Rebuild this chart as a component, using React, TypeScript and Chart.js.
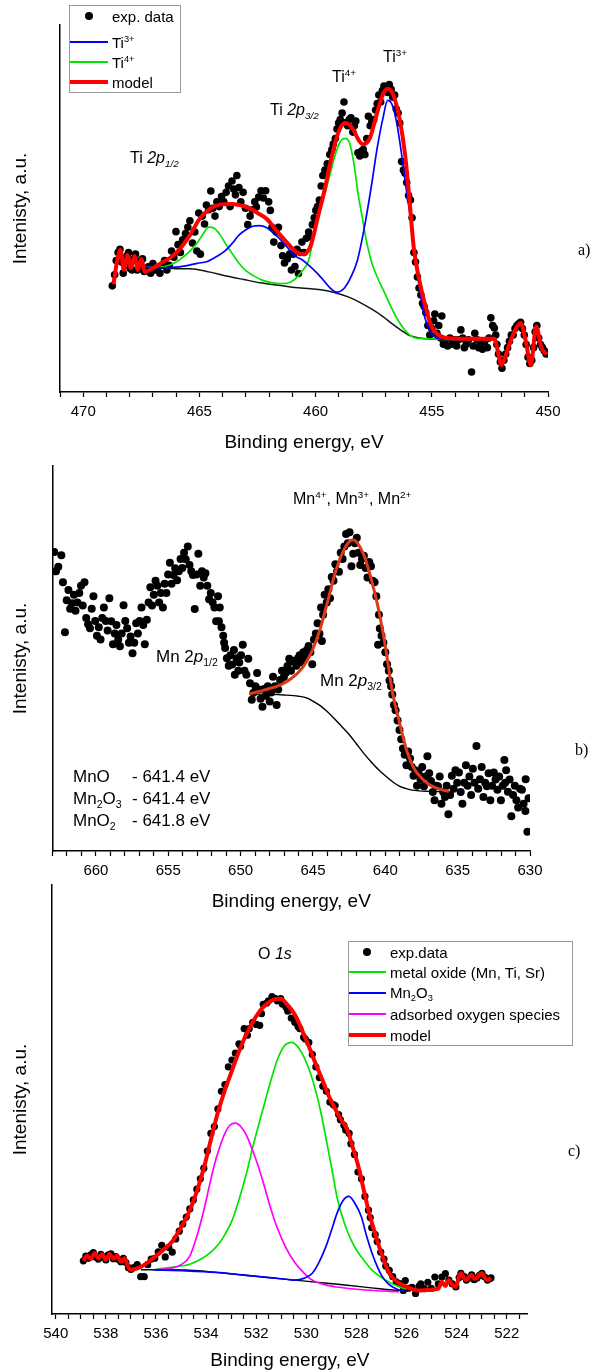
import React, { useEffect, useRef } from 'react';
import { Chart, registerables } from 'chart.js';
Chart.register(...registerables);

const FONT = '"Liberation Sans", Arial, Helvetica, sans-serif';
const SERIF = '"Liberation Serif", "Times New Roman", serif';
type P = [number, number];

// ---------- Panel a: Ti 2p ----------
const aExp: P[] = [
  [468.75,33.5],[468.65,37],[468.58,41.5],[468.5,44],[468.42,45],[468.35,41],[468.28,37.5],[468.2,40],[468.12,43],[468.05,44],
  [467.98,39],[467.9,38.5],[467.82,42],[467.75,43.5],[467.68,38.5],[467.6,39.5],[467.52,41.5],[467.45,42],[467.38,38],[467.3,38.5],
  [467.2,39.5],[467.1,37.5],[467.0,40.5],[466.9,38.5],[466.8,39],[466.7,37.5],[466.6,40],[466.5,41.5],[466.4,38.5],[466.3,40],
  [466.2,44.5],[466.1,42.5],[466.01,50.6],[465.92,46.5],[465.82,44],[465.72,48],[465.6,50],[465.5,52],[465.41,54],[465.3,47],
  [465.2,50.5],[465.11,44.5],[465.03,56.5],[464.96,43.5],[464.88,55.5],[464.78,53],[464.7,59],[464.6,57.5],[464.51,63.4],[464.42,58],
  [464.33,55.5],[464.25,60],[464.15,58.5],[464.05,61.7],[463.95,60],[463.85,63],[463.75,65],[463.68,58.5],[463.6,66.6],[463.52,64],
  [463.45,62.2],[463.39,68.3],[463.3,64.5],[463.22,60],[463.12,63],[463.02,58],[462.92,52.8],[462.82,55.5],[462.72,57.5],[462.62,60],
  [462.55,58.4],[462.45,61.5],[462.35,63.5],[462.25,61.2],[462.15,63.5],[462.02,60],[461.95,57.3],[461.88,52],[461.8,47.3],[461.7,50.5],
  [461.6,52],[461.49,46.2],[461.42,43],[461.34,40.7],[461.22,42],[461.12,43.5],[461.04,38.5],[460.96,43.5],[460.89,39.6],[460.8,45],
  [460.74,37.4],[460.66,44],[460.59,47.3],[460.5,44],[460.4,48.5],[460.3,50.5],[460.22,49],[460.14,52.8],[460.06,55],[459.99,57.3],
  [459.92,58.5],[459.84,60.6],[459.76,65],[459.69,68.3],[459.6,70],[459.5,72],[459.39,74.9],[459.3,76.5],[459.24,78.2],[459.15,80],
  [459.08,83],[459.01,84.9],[458.94,86],[458.86,88],[458.78,91.5],[458.7,85],[458.62,84],[458.55,86],[458.48,86.5],[458.4,82],
  [458.33,84],[458.27,85.5],[458.18,75.5],[458.1,74.5],[458.02,76],[457.95,76.5],[457.88,74.9],[457.8,80],[457.73,87],[457.65,84],
  [457.58,85.5],[457.5,86],[457.42,89],[457.35,91],[457.28,93.7],[457.2,91.5],[457.13,95],[457.06,96.5],[456.98,95.5],[456.9,94.5],
  [456.83,97],[456.75,95.5],[456.68,93],[456.6,93.7],[456.53,89.3],[456.45,88],[456.38,84.9],[456.3,72.7],[456.22,70],[456.15,69],
  [456.08,66.1],[456.0,62],[455.92,60.6],[455.85,55],[455.77,44],[455.7,41],[455.62,36.3],[455.55,32.8],[455.47,30.6],[455.4,28],
  [455.33,27],[455.26,25.1],[455.17,21],[455.09,18],[455.0,20],[454.92,22.5],[454.87,24.6],[454.78,18.5],[454.7,21],[454.62,17],
  [454.57,24],[454.5,15.1],[454.42,16.5],[454.32,14.5],[454.22,17],[454.12,15.1],[454.02,16.5],[453.93,14.5],[453.85,16.5],[453.75,19.6],
  [453.67,17],[453.6,14],[453.52,15.1],[453.42,16.5],[453.29,6.3],[453.22,14.5],[453.15,18.5],[453.05,16.5],[452.98,14],[452.91,15.1],
  [452.82,13.5],[452.72,16],[452.61,14],[452.54,17],[452.46,23.4],[452.38,21],[452.31,20.2],[452.25,18],[452.2,15],[452.13,12],
  [452.05,9.5],[451.98,7.5],[451.9,10],[451.82,12],[451.74,14],[451.66,16],[451.58,18],[451.5,18],[451.42,20],[451.34,21],
  [451.26,21.5],[451.18,22],[451.1,20],[451.02,18],[450.94,15],[450.86,11],[450.78,9],[450.7,10],[450.62,14],[450.55,19],
  [450.48,21],[450.4,17],[450.32,15],[450.24,14],[450.16,13],[450.08,12],
];
const aModel: P[] = [
  [468.7,34],[468.55,41],[468.4,44.8],[468.25,38.5],[468.1,43.2],[467.95,39.1],[467.8,42.9],[467.65,38.5],[467.5,42],[467.35,37.9],
  [467.0,39.1],[466.57,41.0],[466.16,42.9],[465.8,45.5],[465.41,49.5],[464.96,55.0],[464.5,58.0],[464.05,59.2],[463.6,59.3],[463.3,59.0],
  [462.9,58.2],[462.5,56.5],[462.1,54.6],[461.65,50.6],[461.19,46.8],[460.81,44.0],[460.51,43.5],[460.21,46.2],[459.91,55.0],[459.61,63.9],
  [459.39,71.6],[459.09,80.4],[458.9,83.8],[458.71,84.9],[458.5,84.0],[458.33,82.1],[458.15,79.5],[457.96,78.2],[457.8,78.6],[457.65,80.4],
  [457.35,88.2],[457.1,94.0],[456.9,95.7],[456.75,95.0],[456.6,92.6],[456.38,86.0],[456.15,74.9],[456.0,63.9],[455.77,45.1],[455.55,35.7],
  [455.32,28.4],[455.02,20.7],[454.72,18.0],[454.42,17.1],[453.5,16.8],[452.31,16.8],[452.16,12.9],[452.01,8.5],[451.86,10.7],[451.71,14.0],
  [451.41,19.6],[451.18,21.8],[450.96,16.2],[450.74,8.5],[450.51,20.7],[450.28,14.0],[450.05,11.8],
];
const aTi3: P[] = [
  [467.4,39.5],[466.6,39.2],[466.2,39.3],[465.6,39.8],[465.1,40.6],[464.66,41.2],[464.2,43.0],[463.9,44.5],[463.6,46.8],[463.3,49.5],
  [463.0,51.2],[462.7,52.3],[462.4,52.5],[462.1,51.8],[461.8,50.0],[461.5,48.0],[461.2,45.5],[460.9,43.0],[460.6,41.8],[460.3,40.0],
  [460.0,38.0],[459.69,35.5],[459.4,33.0],[459.1,31.5],[458.8,32.5],[458.5,36.0],[458.2,41.6],[457.9,52.0],[457.6,65.0],[457.35,77.0],
  [457.1,86.5],[456.9,92.0],[456.7,90.5],[456.5,84.5],[456.3,75.0],[456.1,64.0],[455.92,55.0],[455.75,44.5],[455.6,36.5],[455.45,29.0],
  [455.3,23.5],[455.1,19.5],[454.9,17.5],[454.6,16.7],[453.5,16.6],[452.3,16.6],
];
const aTi4: P[] = [
  [467.4,39.5],[466.8,39.4],[466.3,40.0],[465.9,41.5],[465.5,43.8],[465.1,47.0],[464.85,49.8],[464.6,52.0],[464.35,51.6],[464.1,49.5],
  [463.85,46.5],[463.6,43.8],[463.3,40.6],[463.0,38.3],[462.7,36.8],[462.3,35.3],[461.9,34.5],[461.5,34.2],[461.2,34.4],[460.9,35.5],
  [460.6,38.0],[460.3,41.6],[460.0,52.0],[459.7,60.0],[459.4,68.0],[459.15,75.0],[458.95,78.8],[458.75,80.0],[458.55,78.8],[458.35,72.0],
  [458.15,61.5],[458.0,55.5],[457.85,49.0],[457.7,44.0],[457.55,40.0],[457.3,35.5],[457.0,30.8],[456.7,26.0],[456.4,22.0],[456.1,19.0],
  [455.8,17.3],[455.5,16.9],[455.2,16.8],[454.6,16.6],[452.3,16.6],
];
const aBg: P[] = [
  [467.4,39.5],[467.0,39.3],[466.5,39.1],[466.0,38.9],[465.4,38.9],[464.6,37.9],[463.9,36.7],[463.1,35.5],[462.4,34.5],[461.6,33.7],
  [460.9,33.0],[460.2,32.6],[459.7,32.2],[459.2,31.4],[458.6,30.0],[458.1,28.3],[457.6,26.2],[457.1,23.8],[456.7,21.5],[456.3,19.4],
  [456.0,18.0],[455.6,17.1],[455.2,16.8],[454.6,16.6],[453.5,16.6],[452.3,16.6],
];

// ---------- Panel b: Mn 2p ----------
const bExp: P[] = [
  [662.88,96.2],[662.76,90],[662.6,91.5],[662.39,95.2],[662.28,86.5],[662.14,70.4],[662.02,80.7],[661.9,84],[661.78,78],[661.65,79.7],
  [661.52,82.5],[661.41,77.3],[661.28,80],[661.15,83],[661.03,85.4],[660.91,79],[660.79,86.5],[660.67,75],[660.54,73],[660.41,71.7],
  [660.29,78],[660.17,82],[660.05,74],[659.93,69.3],[659.8,72],[659.68,68.1],[659.56,75],[659.45,78.4],[659.32,74],[659.19,71],
  [659.07,81.3],[658.94,73.9],[658.82,66.5],[658.7,70],[658.58,72.7],[658.46,68],[658.34,65.9],[658.22,70],[658.09,79.1],[657.97,74],
  [657.84,71.7],[657.72,67],[657.6,69],[657.47,63.6],[657.35,67],[657.22,73.3],[657.1,70],[656.98,74],[656.85,78.4],[656.73,72.7],
  [656.62,66.5],[656.48,74.4],[656.36,80],[656.24,84.9],[656.12,79],[656.0,82.5],[655.88,87],[655.75,85.4],[655.63,80],[655.51,83],
  [655.37,78.4],[655.25,86],[655.13,83],[655.01,89],[654.89,92.8],[654.77,86],[654.64,88.8],[654.52,91],[654.39,87.1],[654.27,90],
  [654.15,94],[654.03,91.1],[653.91,96],[653.79,93.9],[653.65,98],[653.53,92],[653.41,90],[653.3,88.8],[653.17,77.9],[653.05,89],
  [652.92,95.7],[652.79,85.4],[652.67,90],[652.55,88],[652.43,89.4],[652.3,85.4],[652.18,81],[652.06,83],[651.93,80],[651.81,78.4],
  [651.69,73.9],[651.56,82],[651.5,73.9],[651.44,78.4],[651.32,72],[651.2,69.3],[651.14,67],[651.07,65.3],[650.95,62],[650.82,59.6],
  [650.7,63],[650.58,60],[650.46,64.7],[650.4,56.7],[650.28,62],[650.16,58],[650.09,60.7],[649.97,63],[649.85,66.4],[649.73,58],
  [649.6,56.7],[649.47,61.9],[649.35,54],[649.23,48.7],[649.11,50.9],[648.98,53],[648.86,57.3],[648.74,52],[648.62,49],[648.49,46.4],
  [648.37,52.1],[648.25,50],[648.12,53],[647.99,48.1],[647.88,51],[647.76,56.1],[647.63,53],[647.51,47],[647.4,52],[647.27,55],
  [647.14,58],[647.01,56],[646.89,57.3],[646.76,59.5],[646.64,61.9],[646.52,58],[646.4,61],[646.28,61.2],[646.15,59.6],[646.03,62],
  [645.92,63],[645.78,60.7],[645.66,64],[645.54,62],[645.42,64.7],[645.3,66],[645.18,64],[645.05,60.1],[644.93,68.1],[644.8,70],
  [644.68,73.3],[644.55,69.9],[644.44,78.4],[644.38,67.6],[644.3,76],[644.19,82.5],[644.05,80],[643.94,84.2],[643.82,81.3],[643.7,88.2],
  [643.58,87],[643.45,92.3],[643.33,90],[643.2,89.9],[643.08,96],[642.95,94],[642.83,98],[642.71,102],[642.59,99],[642.47,102.6],
  [642.34,91.6],[642.22,95.7],[642.1,99],[641.97,100.8],[641.85,96],[641.73,92],[641.61,94],[641.48,95],[641.36,91.1],[641.23,88],
  [641.11,93],[640.99,91.6],[640.87,87],[640.74,86.5],[640.62,82],[640.5,66.4],[640.44,76],[640.38,71.6],[640.26,69.3],[640.13,67],
  [640.0,64],[639.88,60.1],[639.76,58],[639.71,54.9],[639.6,53],[639.52,50.4],[639.4,47],[639.29,45.3],[639.15,42],[639.02,38.9],
  [638.9,36],[638.78,33],[638.66,31],[638.54,27.6],[638.42,32],[638.29,29.8],[638.17,27],[638.05,24.2],[637.93,26],[637.81,21],
  [637.69,25],[637.57,23.1],[637.45,27],[637.33,20.8],[637.21,24],[637.09,30.5],[636.97,25],[636.84,22.5],[636.72,19],[636.6,16.3],
  [636.48,21],[636.36,20.8],[636.24,24],[636.12,15.2],[636.0,19],[635.88,17.4],[635.76,21],[635.64,11.8],[635.52,18],[635.4,24.2],
  [635.28,20],[635.15,26],[635.03,22],[634.91,25.3],[634.79,19],[634.67,15.2],[634.55,22],[634.43,27.6],[634.31,21],[634.19,24],
  [634.07,18],[633.95,26.5],[633.83,22],[633.7,33.8],[633.58,20],[633.46,23.1],[633.34,27],[633.22,17.4],[633.1,22],[632.98,20.8],
  [632.86,25],[632.74,16.3],[632.62,21],[632.5,25.3],[632.38,23],[632.25,19.7],[632.13,24],[632.01,16.3],[631.89,21],[631.77,29.3],
  [631.72,22],[631.65,26],[631.53,19.1],[631.41,23],[631.29,11.2],[631.17,18],[631.05,21],[630.94,16.3],[630.82,14],[630.69,20],
  [630.56,19.7],[630.44,15.2],[630.32,12.9],[630.3,23.1],[630.18,6.2],[630.1,17],
];
const bModel: P[] = [
  [649.4,50.5],[649.0,51.0],[648.5,51.6],[648.0,52.3],[647.5,53.0],[647.0,54.0],[646.5,55.5],[646.0,57.5],[645.5,60.5],[645.0,65.0],
  [644.5,71.5],[644.0,80.0],[643.5,89.0],[643.0,95.5],[642.5,99.5],[642.25,100.2],[642.0,99.5],[641.5,95.5],[641.0,88.0],[640.5,78.5],
  [640.0,66.0],[639.5,51.0],[639.0,41.0],[638.5,32.0],[638.0,26.5],[637.5,23.5],[637.0,21.5],[636.5,20.3],[636.0,19.6],[635.6,19.2],
];
const bBg: P[] = [
  [649.4,50.5],[648.0,50.4],[647.0,50.2],[646.0,49.8],[645.4,49.2],[645.0,48.2],[644.5,46.8],[644.0,44.8],[643.5,42.5],[643.0,40.0],
  [642.5,37.5],[642.0,34.5],[641.5,31.5],[641.0,28.8],[640.5,26.3],[640.0,24.2],[639.5,22.3],[639.0,20.8],[638.5,20.0],[638.0,19.5],
  [637.0,19.2],[635.6,19.1],
];

// ---------- Panel c: O 1s ----------
const cExp: P[] = [
  [538.9,12.4],[538.8,13.5],[538.7,13],[538.6,13.8],[538.5,14.3],[538.4,13.2],[538.3,12.8],[538.2,13.9],[538.1,13.3],[538.0,12.6],
  [537.9,13.8],[537.8,14],[537.7,12.9],[537.6,13.4],[537.5,12.7],[537.4,12.2],[537.3,13],[537.2,12],[537.1,10.8],[537.0,10.4],
  [536.89,10.8],[536.75,11.5],[536.61,8.7],[536.47,8.7],[536.33,11.5],[536.19,12.8],[536.05,13],[535.91,14.5],[535.77,16],[535.63,13.3],
  [535.49,15.5],[535.35,14.4],[535.21,17.5],[535.07,19.3],[534.93,21],[534.79,22.6],[534.65,24.5],[534.51,26.6],[534.37,29.1],[534.23,31.5],
  [534.09,34],[533.95,38],[533.81,42.1],[533.67,43.7],[533.53,47.8],[533.39,51.9],[533.25,53.5],[533.11,57.6],[532.97,59.2],[532.83,60.8],
  [532.69,63],[532.62,62.4],[532.48,66.5],[532.35,65],[532.28,66.5],[532.14,68],[532.0,67.5],[531.86,67.3],[531.79,70],[531.72,72.2],
  [531.58,72.5],[531.51,73],[531.37,74],[531.23,73.5],[531.16,73],[531.02,73.5],[530.95,72.2],[530.81,71.5],[530.74,70.6],[530.6,69],
  [530.46,68],[530.33,67],[530.26,66.5],[530.11,64.5],[530.04,64.1],[529.9,63.3],[529.76,60.5],[529.62,57.6],[529.48,55.1],[529.34,53.1],
  [529.2,51.9],[529.06,49.4],[528.92,48.8],[528.85,48.6],[528.71,46.5],[528.64,45.3],[528.5,44],[528.43,42.9],[528.29,42.1],[528.22,39.7],
  [528.08,37.2],[527.94,33.1],[527.8,31.5],[527.66,27.4],[527.52,24.2],[527.45,22.5],[527.39,20.1],[527.25,18.5],[527.17,16.9],[527.03,14.4],
  [526.9,12.8],[526.83,11.2],[526.69,10.2],[526.55,8.7],[526.41,7.5],[526.27,7.1],[526.13,5.5],[526.05,7.8],[525.92,6],[525.78,6.2],
  [525.64,4.8],[525.5,6.5],[525.43,7],[525.29,5.9],[525.15,7.4],[525.01,6],[524.87,8.6],[524.73,7],[524.59,8.6],[524.45,9.4],
  [524.31,7.9],[524.17,7],[524.03,6.3],[523.9,8.5],[523.83,9.5],[523.7,8.7],[523.61,7.9],[523.5,8.4],[523.4,9.1],[523.3,8],
  [523.19,8.4],[523.09,9],[522.99,9.5],[522.88,8.6],[522.77,7.9],[522.7,8.2],[522.63,8.4],
];
const cModel: P[] = [
  [538.9,12.4],[538.75,13.6],[538.6,12.8],[538.45,14.2],[538.3,13],[538.15,13.9],[538.0,12.6],[537.85,14],[537.7,12.9],[537.55,13.6],
  [537.4,12.2],[537.25,13],[537.1,10.8],[537.03,10.3],[536.6,11],[536.05,13.3],[535.7,15],[535.35,16.9],[535.0,20.2],[534.65,24.2],
  [534.37,28.6],[534.09,34],[533.81,40.6],[533.53,47],[533.25,52.2],[532.97,56.7],[532.7,61],[532.42,64.9],[532.14,68],[531.86,70.6],
  [531.58,72.3],[531.3,73.3],[531.02,73.5],[530.74,72],[530.46,69.8],[530.18,66.3],[529.9,62.4],[529.62,58.2],[529.34,54.3],[529.13,51.2],
  [528.92,48.6],[528.64,45.6],[528.36,42.9],[528.15,38.9],[527.94,34.8],[527.73,29.5],[527.52,24.2],[527.31,19.8],[527.11,16],[526.9,12.5],
  [526.69,9.5],[526.48,8],[526.27,7.1],[525.9,6.1],[525.57,5.5],[525.15,5.6],[524.73,5.9],[524.59,7.5],[524.45,6.5],[524.31,7.9],
  [524.17,6.8],[524.03,6.3],[523.9,8.8],[523.83,9.5],[523.7,8.3],[523.61,7.9],[523.5,8.7],[523.4,9.1],[523.3,8.2],[523.19,8.4],
  [523.09,9.2],[522.99,9.5],[522.88,8.5],[522.77,7.9],[522.63,8.4],
];
const cMetal: P[] = [
  [536.1,10.3],[535.4,10.9],[534.65,11.6],[534.2,12.8],[533.81,14.4],[533.5,16.3],[533.25,18.5],[532.95,22],[532.69,26.6],[532.4,32.5],
  [532.14,38.8],[531.85,45.2],[531.58,51],[531.35,55.7],[531.16,59.2],[530.9,62.3],[530.6,63.3],[530.3,62],[530.04,59.2],[529.82,55.9],
  [529.62,51.9],[529.4,46.5],[529.2,40.5],[528.98,33.8],[528.78,27.4],[528.57,22.8],[528.36,19.3],[528.15,16.5],[527.94,14.4],[527.66,12.2],
  [527.39,10.3],[527.1,8.9],[526.83,7.9],[526.55,7],[526.27,6.3],[526.0,5.8],
];
const cMn2O3: P[] = [
  [536.1,10.3],[535.0,10.1],[533.6,9.7],[532.56,9.1],[531.5,8.5],[530.8,8.1],[530.46,7.9],[530.1,8.3],[529.76,9.5],[529.48,12.2],
  [529.2,16],[528.98,19.8],[528.78,23.4],[528.55,26.3],[528.3,27.4],[528.05,25.7],[527.8,22.6],[527.6,18.3],[527.39,14.4],[527.18,11.2],
  [526.97,8.7],[526.76,7.2],[526.55,6.3],[526.3,5.6],[526.1,5.4],
];
const cAds: P[] = [
  [536.1,10.3],[535.5,10.6],[535.0,11.5],[534.65,13.5],[534.35,18.5],[534.09,24.2],[533.87,29.8],[533.67,34.8],[533.45,39],[533.25,42.1],
  [533.05,44],[532.83,44.5],[532.6,43.6],[532.4,41.8],[532.2,39],[531.95,35],[531.72,30.7],[531.45,25.2],[531.16,20.1],[530.8,15.3],
  [530.46,12],[530.1,9.6],[529.76,7.9],[529.3,6.9],[528.78,6.3],[527.66,5.6],[526.3,5.2],
];
const cBg: P[] = [
  [536.6,10.3],[535.5,10.3],[534.65,10.2],[533.6,9.7],[532.56,9.1],[531.5,8.5],[530.46,7.9],[529.4,7.3],[528.36,6.7],[527.4,6.1],
  [526.55,5.6],[526.27,5.5],
];

const Y_TITLE = 'Intenisty, a.u.';
const X_TITLE = 'Binding energy, eV';

const xy = (a: P[]) => a.map(([x, y]) => ({ x, y }));
const line = (data: P[], color: string, width: number) => ({
  type: 'line', data: xy(data), borderColor: color, borderWidth: width, pointRadius: 0,
  fill: false, cubicInterpolationMode: 'monotone', showLine: true,
});
const dots = (data: P[], r: number) => ({
  type: 'scatter', data: xy(data), pointRadius: r, pointBackgroundColor: '#000',
  pointBorderWidth: 0, showLine: false,
});

interface Spec {
  top: number; height: number; padTop: number; padRight: number; yWidth: number; xHeight: number;
  xMin: number; xMax: number; yMax: number; step: number; every: number; titlePad: number;
  datasets: any[];
}

const specA: Spec = {
  top: 0, height: 452, padTop: 25, padRight: 48, yWidth: 60, xHeight: 60,
  xMin: 450, xMax: 471, yMax: 115.8, step: 1, every: 5, titlePad: 0,
  datasets: [
    line(aModel, '#ff0000', 4), line(aTi3, '#0000ff', 1.7), line(aTi4, '#00e400', 1.7),
    line(aBg, '#0a1a0a', 1.5), dots(aExp, 3.8),
  ],
};
const specB: Spec = {
  top: 452, height: 459, padTop: 14, padRight: 66, yWidth: 52.5, xHeight: 60,
  xMin: 630, xMax: 663, yMax: 123.9, step: 1, every: 5, titlePad: 0,
  datasets: [line(bModel, '#dc3a1a', 3), line(bBg, '#000000', 1.4), dots(bExp, 4)],
};
const specC: Spec = {
  top: 860, height: 510, padTop: 25, padRight: 68.2, yWidth: 52, xHeight: 56,
  xMin: 521.16, xMax: 540.15, yMax: 100, step: 0.5, every: 2, titlePad: 0,
  datasets: [
    line(cModel, '#ff0000', 4), line(cMn2O3, '#0000ff', 1.7), line(cAds, '#ff00ff', 1.7),
    line(cMetal, '#00e400', 1.7), line(cBg, '#000000', 1.4), dots(cExp, 3.6),
  ],
};

function Panel({ spec }: { spec: Spec }) {
  const ref = useRef<HTMLCanvasElement>(null);
  useEffect(() => {
    const chart = new Chart(ref.current as HTMLCanvasElement, {
      type: 'scatter',
      data: { datasets: spec.datasets as any },
      options: {
        responsive: false, animation: false, devicePixelRatio: 1, events: [],
        layout: { padding: { top: spec.padTop, right: spec.padRight, left: 0, bottom: 0 } },
        plugins: { legend: { display: false }, tooltip: { enabled: false } },
        scales: {
          x: {
            type: 'linear', reverse: true, min: spec.xMin, max: spec.xMax,
            afterFit: (s: any) => { s.height = spec.xHeight; },
            border: { display: true, color: '#000', width: 1.5 },
            grid: { display: true, drawOnChartArea: false, drawTicks: true, tickLength: 5, tickColor: '#000', tickWidth: 1.2 },
            ticks: {
              stepSize: spec.step, autoSkip: false, maxRotation: 0, minRotation: 0, padding: 6, includeBounds: false,
              color: '#000', font: { family: FONT, size: 15 },
              callback: (v: any) => {
                const n = Number(v); const r = Math.round(n);
                if (Math.abs(n - r) > 1e-6) return '';
                return r % spec.every === 0 ? String(r) : '';
              },
            },
            title: { display: true, text: X_TITLE, color: '#000', font: { family: FONT, size: 19, lineHeight: 1 }, padding: { top: 0, bottom: spec.titlePad } },
          },
          y: {
            type: 'linear', min: 0, max: spec.yMax,
            afterFit: (s: any) => { s.width = spec.yWidth; },
            border: { display: true, color: '#000', width: 1.5 },
            grid: { display: false, drawTicks: false },
            ticks: { display: false },
            title: { display: true, text: Y_TITLE, color: '#000', font: { family: FONT, size: 19, lineHeight: 1 }, padding: { top: 11, bottom: 0 } },
          },
        },
      } as any,
    });
    return () => chart.destroy();
  }, []);
  return (
    <canvas ref={ref} width={596} height={spec.height}
      style={{ position: 'absolute', left: 0, top: spec.top, width: 596, height: spec.height }} />
  );
}

const Txt = ({ x, y, size = 15, family = FONT, children }: any) => (
  <div style={{ position: 'absolute', left: x, top: y, fontSize: size, fontFamily: family, lineHeight: 1,
    whiteSpace: 'nowrap', transform: 'translateY(-50%)', color: '#000' }}>{children}</div>
);
const Sub = ({ children }: any) => (
  <span style={{ fontSize: '0.62em', position: 'relative', top: '0.4em' }}>{children}</span>
);
const Sup = ({ children }: any) => (
  <span style={{ fontSize: '0.62em', position: 'relative', top: '-0.6em' }}>{children}</span>
);
const Seg = ({ x, y, w, h, color }: any) => (
  <div style={{ position: 'absolute', left: x, top: y - h / 2, width: w, height: h, background: color }} />
);
const Dot = ({ x, y, d }: any) => (
  <div style={{ position: 'absolute', left: x - d / 2, top: y - d / 2, width: d, height: d, borderRadius: '50%', background: '#000' }} />
);
const Box = ({ x, y, w, h }: any) => (
  <div style={{ position: 'absolute', left: x, top: y, width: w, height: h, border: '1px solid #9a9a9a', boxSizing: 'border-box' }} />
);

export default function App() {
  return (
    <div style={{ position: 'absolute', left: 0, top: 0, width: 596, height: 1370, overflow: 'hidden', background: '#fff', fontFamily: FONT }}>
      <Panel spec={specA} />
      <Panel spec={specB} />
      <Panel spec={specC} />

      {/* Panel a legend */}
      <Box x={69} y={5} w={112} h={88} />
      <Dot x={89} y={16} d={8} />
      <Txt x={112} y={16}>exp. data</Txt>
      <Seg x={70} y={42} w={38} h={2} color="#0000ff" />
      <Txt x={112} y={43}>Ti<Sup>3+</Sup></Txt>
      <Seg x={70} y={62} w={38} h={2} color="#00e400" />
      <Txt x={112} y={63}>Ti<Sup>4+</Sup></Txt>
      <Seg x={70} y={82} w={38} h={4} color="#ff0000" />
      <Txt x={112} y={82}>model</Txt>

      {/* Panel a annotations */}
      <Txt x={130} y={158} size={16}>Ti <i>2p</i><Sub><i>1/2</i></Sub></Txt>
      <Txt x={270} y={110} size={16}>Ti <i>2p</i><Sub><i>3/2</i></Sub></Txt>
      <Txt x={332} y={77} size={16}>Ti<Sup>4+</Sup></Txt>
      <Txt x={383} y={57} size={16}>Ti<Sup>3+</Sup></Txt>
      <Txt x={578} y={250} size={16} family={SERIF}>a)</Txt>

      {/* Panel b annotations */}
      <Txt x={293} y={499} size={16}>Mn<Sup>4+</Sup>, Mn<Sup>3+</Sup>, Mn<Sup>2+</Sup></Txt>
      <Txt x={156} y={656} size={17}>Mn 2<i>p</i><Sub>1/2</Sub></Txt>
      <Txt x={320} y={680} size={17}>Mn 2<i>p</i><Sub>3/2</Sub></Txt>
      <Txt x={73} y={776} size={17}>MnO</Txt>
      <Txt x={132} y={776} size={17}>- 641.4 eV</Txt>
      <Txt x={73} y={798} size={17}>Mn<Sub>2</Sub>O<Sub>3</Sub></Txt>
      <Txt x={132} y={798} size={17}>- 641.4 eV</Txt>
      <Txt x={73} y={820} size={17}>MnO<Sub>2</Sub></Txt>
      <Txt x={132} y={820} size={17}>- 641.8 eV</Txt>
      <Txt x={575} y={750} size={16} family={SERIF}>b)</Txt>

      {/* Panel c legend */}
      <Box x={348} y={941} w={225} h={105} />
      <Dot x={367} y={951.5} d={8} />
      <Txt x={390} y={951.5}>exp.data</Txt>
      <Seg x={349} y={972} w={37} h={2} color="#00e400" />
      <Txt x={390} y={972}>metal oxide (Mn, Ti, Sr)</Txt>
      <Seg x={349} y={992.5} w={37} h={2} color="#0000ff" />
      <Txt x={390} y={992.5}>Mn<Sub>2</Sub>O<Sub>3</Sub></Txt>
      <Seg x={349} y={1013.5} w={37} h={2} color="#ff00ff" />
      <Txt x={390} y={1013.5}>adsorbed oxygen species</Txt>
      <Seg x={349} y={1034.5} w={37} h={4} color="#ff0000" />
      <Txt x={390} y={1034.5}>model</Txt>

      {/* Panel c annotations */}
      <Txt x={258} y={954} size={16}>O <i>1s</i></Txt>
      <Txt x={568} y={1151} size={16} family={SERIF}>c)</Txt>
    </div>
  );
}
